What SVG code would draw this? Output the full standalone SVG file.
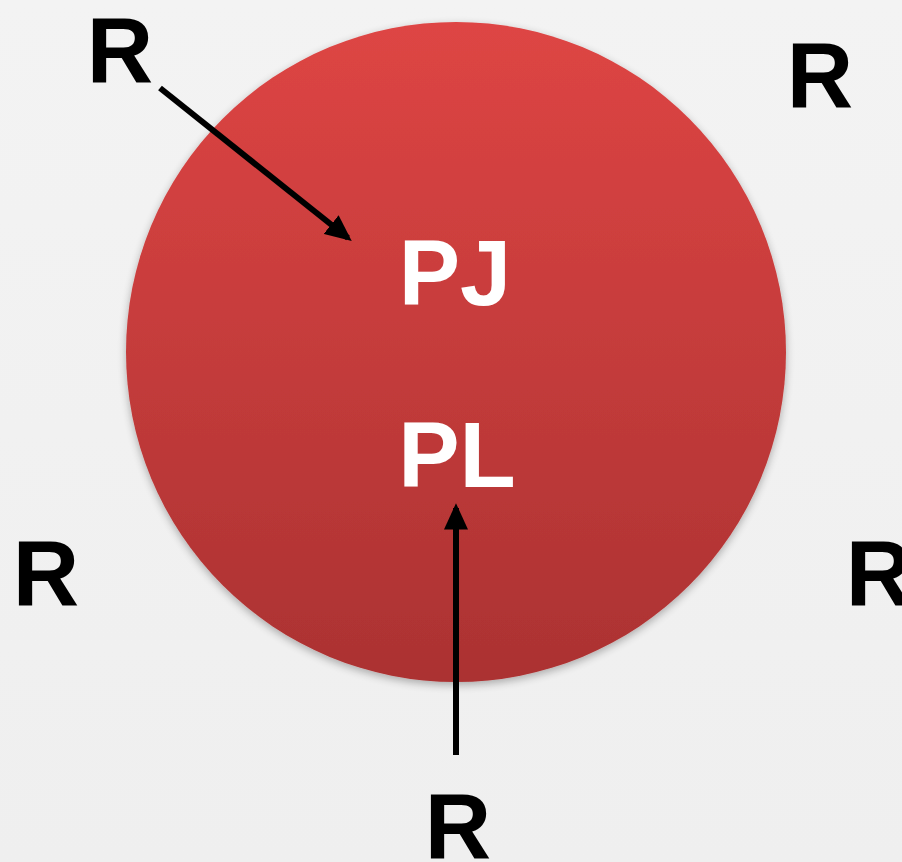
<svg xmlns="http://www.w3.org/2000/svg" width="902" height="862" viewBox="0 0 902 862">
<defs>
<linearGradient id="bg" x1="0" y1="0" x2="0" y2="1"><stop offset="0" stop-color="#f3f3f3"/><stop offset="1" stop-color="#efefef"/></linearGradient>
<linearGradient id="red" x1="0" y1="0" x2="0" y2="1"><stop offset="0" stop-color="#de4544"/><stop offset="1" stop-color="#ab3232"/></linearGradient>
<filter id="sh" x="-10%" y="-10%" width="120%" height="120%"><feGaussianBlur in="SourceAlpha" stdDeviation="4"/><feOffset dy="3"/><feComponentTransfer><feFuncA type="linear" slope="0.3"/></feComponentTransfer><feMerge><feMergeNode/><feMergeNode in="SourceGraphic"/></feMerge></filter>
<marker id="ah" markerWidth="4.4" markerHeight="4" refX="3.6" refY="2" orient="auto" markerUnits="strokeWidth"><path d="M0,0 L4.4,2 L0,4 z" fill="#000"/></marker>
</defs>
<style>
.r{font-family:"Liberation Sans",Arial,sans-serif;font-weight:bold;font-size:92px;fill:#000}
.w{font-family:"Liberation Sans",Arial,sans-serif;font-weight:bold;font-size:92px;fill:#fff}
.c{stroke:#000;stroke-width:6;fill:none;marker-end:url(#ah)}
</style>
<rect width="902" height="862" fill="url(#bg)"/>
<g id="circle"><circle cx="456" cy="352" r="330" fill="url(#red)" filter="url(#sh)"/>
<text class="w" x="455" y="305" text-anchor="middle">PJ</text>
<text class="w" x="457" y="487" text-anchor="middle">PL</text></g>
<g id="r-tl"><text class="r" x="120" y="82" text-anchor="middle">R</text></g>
<g id="r-tr"><text class="r" x="820" y="107" text-anchor="middle">R</text></g>
<g id="r-l"><text class="r" x="46" y="605" text-anchor="middle">R</text></g>
<g id="r-r"><text class="r" x="879" y="605" text-anchor="middle">R</text></g>
<g id="r-b"><text class="r" x="458" y="858" text-anchor="middle">R</text></g>
<g id="connectors">
<line class="c" x1="160" y1="88" x2="348" y2="238"/>
<line class="c" x1="456" y1="755" x2="456" y2="508"/>
</g>
</svg>
